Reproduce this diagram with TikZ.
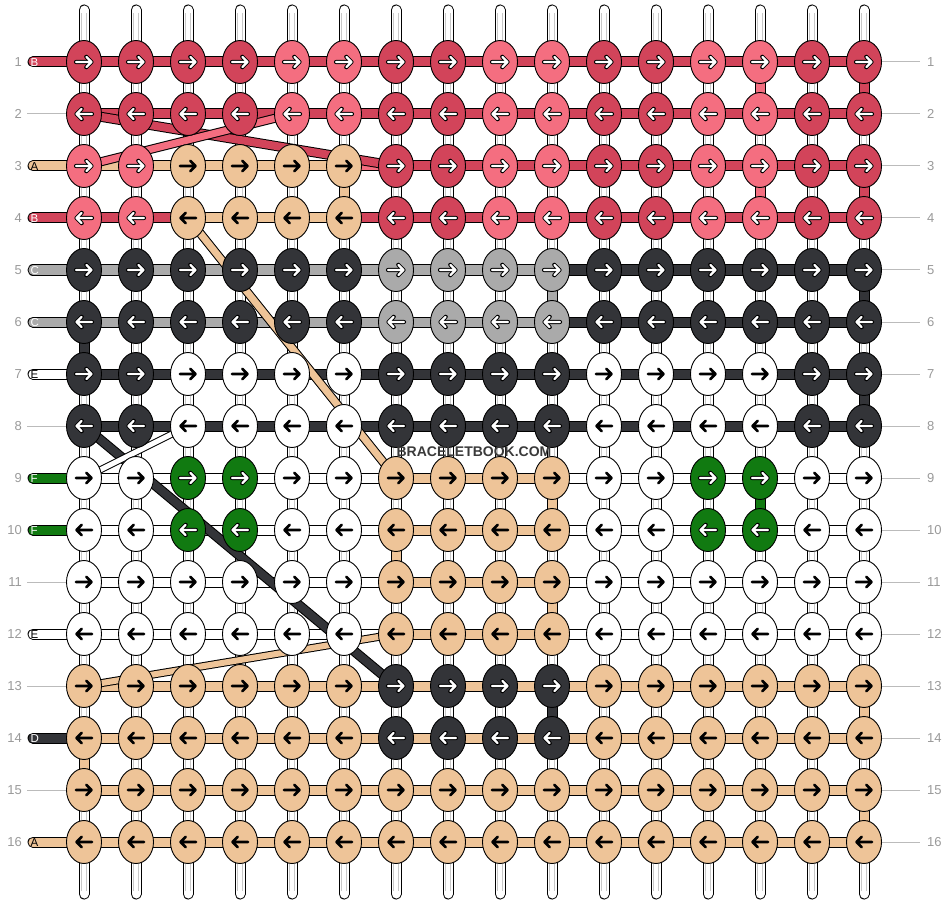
\documentclass[tikz,border=0pt]{standalone}
\usepackage{fontspec}
\setmainfont{Liberation Sans}
\usetikzlibrary{shapes.geometric}
\definecolor{cD}{HTML}{D2445A}
\definecolor{cP}{HTML}{F46E80}
\definecolor{cT}{HTML}{EEC498}
\definecolor{cK}{HTML}{333438}
\definecolor{cG}{HTML}{AAAAAA}
\definecolor{cN}{HTML}{117A11}
\definecolor{cW}{HTML}{FFFFFF}
\definecolor{numgray}{HTML}{9A9A9A}
\definecolor{linegray}{HTML}{BBBBBB}
\definecolor{strgray}{HTML}{C8C8C8}
\definecolor{wmgray}{HTML}{3A3A3A}
\def\arwD{1}\def\arwP{1}\def\arwK{1}\def\arwG{1}\def\arwN{1}\def\arwT{0}\def\arwW{0}
\tikzset{
  knot/.style={ellipse, draw=black, line width=0.9pt, minimum width=35pt, minimum height=43pt, inner sep=0pt},
  numlabel/.style={text=numgray, font=\fontsize{13}{13}\selectfont, inner sep=0pt},
  tablabel/.style={font=\fontsize{11.5}{11.5}\selectfont, inner sep=0pt, anchor=west},
  glabel/.style={draw=linegray, line width=1pt},
}
\def\knotrows{
 1/{D,D,D,D,P,P,D,D,P,P,D,D,P,P,D,D},
 2/{D,D,D,D,P,P,D,D,P,P,D,D,P,P,D,D},
 3/{P,P,T,T,T,T,D,D,P,P,D,D,P,P,D,D},
 4/{P,P,T,T,T,T,D,D,P,P,D,D,P,P,D,D},
 5/{K,K,K,K,K,K,G,G,G,G,K,K,K,K,K,K},
 6/{K,K,K,K,K,K,G,G,G,G,K,K,K,K,K,K},
 7/{K,K,W,W,W,W,K,K,K,K,W,W,W,W,K,K},
 8/{K,K,W,W,W,W,K,K,K,K,W,W,W,W,K,K},
 9/{W,W,N,N,W,W,T,T,T,T,W,W,N,N,W,W},
 10/{W,W,N,N,W,W,T,T,T,T,W,W,N,N,W,W},
 11/{W,W,W,W,W,W,T,T,T,T,W,W,W,W,W,W},
 12/{W,W,W,W,W,W,T,T,T,T,W,W,W,W,W,W},
 13/{T,T,T,T,T,T,K,K,K,K,T,T,T,T,T,T},
 14/{T,T,T,T,T,T,K,K,K,K,T,T,T,T,T,T},
 15/{T,T,T,T,T,T,T,T,T,T,T,T,T,T,T,T},
 16/{T,T,T,T,T,T,T,T,T,T,T,T,T,T,T,T}}
\def\segrows{
 1/{D,D,D,D,D,D,D,D,D,D,D,D,D,D,D},
 2/{D,D,D,D,D,D,D,D,D,D,D,D,D,D,D},
 3/{T,T,T,T,T,P,D,D,D,D,D,D,D,D,D},
 4/{D,D,T,T,T,D,D,D,D,D,D,D,D,D,D},
 5/{G,G,G,G,G,G,G,G,G,K,K,K,K,K,K},
 6/{G,G,G,G,G,G,G,G,G,K,K,K,K,K,K},
 7/{K,K,K,K,K,K,K,K,K,K,K,K,K,K,K},
 8/{K,K,K,K,K,K,K,K,K,K,K,K,K,K,K},
 9/{W,W,W,W,W,W,T,T,T,W,W,W,W,W,W},
 10/{W,W,W,W,W,W,T,T,T,W,W,W,W,W,W},
 11/{W,W,W,W,W,W,T,T,T,W,W,W,W,W,W},
 12/{W,W,W,W,W,W,T,T,T,W,W,W,W,W,W},
 13/{T,T,T,T,T,T,T,T,T,T,T,T,T,T,T},
 14/{T,T,T,T,T,T,T,T,T,T,T,T,T,T,T},
 15/{T,T,T,T,T,T,T,T,T,T,T,T,T,T,T},
 16/{T,T,T,T,T,T,T,T,T,T,T,T,T,T,T}}
\begin{document}
\begin{tikzpicture}[x=1pt,y=-1pt]
\fill[white] (0,0) rectangle (948,904);
\useasboundingbox (0,0) rectangle (948,904);
% grid coordinates
\foreach \r in {1,...,16}{
  \foreach \c in {1,...,16}{
    \coordinate (p\r-\c) at ({84+52*(\c-1)},{62+52*(\r-1)});
  }
}
% vertical strings
\foreach \c in {1,...,16}{
  \coordinate (top\c) at ({84+52*(\c-1)},10);
  \coordinate (bot\c) at ({84+52*(\c-1)},894);
  \coordinate (itop\c) at ({84+52*(\c-1)},13);
  \coordinate (ibot\c) at ({84+52*(\c-1)},891);
  \draw[black, line width=11pt, line cap=round] (top\c) -- (bot\c);
  \draw[white, line width=9pt, line cap=round] (top\c) -- (bot\c);
  \draw[strgray, line width=5.6pt] (itop\c) -- (ibot\c);
  \draw[white, line width=4.4pt] (itop\c) -- (ibot\c);
}
% horizontal segments
\foreach \r/\segs in \segrows {
  \foreach \s [count=\i] in \segs {
    \pgfmathtruncatemacro\j{\i+1}
    \draw[black, line width=11pt] (p\r-\i) -- (p\r-\j);
    \draw[c\s, line width=9pt] (p\r-\i) -- (p\r-\j);
  }
}
% vertical coloured segments
\foreach \r/\c/\col in {1/14/P,1/16/D,3/14/P,3/16/D,3/6/T,5/10/G,5/16/K,6/1/K,7/16/K,9/10/T,9/14/N,10/7/T,11/10/T,13/10/K,13/16/T,14/1/T,15/16/T}{
  \pgfmathtruncatemacro\rr{\r+1}
  \draw[black, line width=11pt] (p\r-\c) -- (p\rr-\c);
  \draw[c\col, line width=9pt] (p\r-\c) -- (p\rr-\c);
}
% diagonal threads
\draw[black, line width=10pt] (p2-1) -- (p3-7);
\draw[cD, line width=8pt] (p2-1) -- (p3-7);
\draw[black, line width=9pt] (p3-1) -- (p2-5);
\draw[cP, line width=7pt] (p3-1) -- (p2-5);
\draw[black, line width=9pt] (p4-3) -- (p9-7);
\draw[cT, line width=7pt] (p4-3) -- (p9-7);
\draw[black, line width=8pt] (p13-1) -- (p12-7);
\draw[cT, line width=6pt] (p13-1) -- (p12-7);
\draw[black, line width=10pt] (p8-1) -- (p13-7);
\draw[cK, line width=8pt] (p8-1) -- (p13-7);
\draw[black, line width=7pt] (p9-1) -- (p8-3);
\draw[white, line width=5pt] (p9-1) -- (p8-3);
% tabs on the left
\foreach \r/\l/\col/\tc in {1/B/D/white,3/A/T/black,4/B/D/white,5/C/G/white,6/C/G/white,7/E/W/black,9/F/N/white,10/F/N/white,12/E/W/black,14/D/K/white,16/A/T/black}{
  \coordinate (tab\r) at (33,{62+52*(\r-1)});
  \draw[black, line width=11pt, line cap=round] (tab\r) -- (p\r-1);
  \draw[c\col, line width=9pt, line cap=round] (tab\r) -- (p\r-1);
  \node[tablabel, text=\tc] (lab\r) at (30.5,{62.5+52*(\r-1)}) {\l};
}
% gray label lines
\foreach \r in {2,8,11,13,15}{
  \coordinate (gl\r) at (27,{62+52*(\r-1)});
  \draw[glabel] (gl\r) -- (p\r-1);
}
\foreach \r in {1,...,16}{
  \coordinate (gr\r) at (920,{62+52*(\r-1)});
  \draw[glabel] (p\r-16) -- (gr\r);
  \node[numlabel, anchor=east] (nl\r) at (22,{62+52*(\r-1)}) {\r};
  \node[numlabel, anchor=west] (nr\r) at (927,{62+52*(\r-1)}) {\r};
}
% knots
\foreach \r/\cols in \knotrows {
  \pgfmathtruncatemacro\dir{2*mod(\r,2)-1}
  \foreach \c [count=\i] in \cols {
    \node[knot, fill=c\c] (k\r-\i) at (p\r-\i) {};
    \begin{scope}[shift={(p\r-\i)}, xscale=\dir]
      \ifnum\csname arw\c\endcsname=1
        \draw[black, line width=4.2pt, line cap=round, line join=round] (-8,0) -- (7.5,0) (2.3,-5.2) -- (7.5,0) -- (2.3,5.2);
        \draw[white, line width=2.2pt, line cap=round, line join=round] (-8,0) -- (7.5,0) (2.3,-5.2) -- (7.5,0) -- (2.3,5.2);
      \else
        \draw[black, line width=2.6pt, line cap=round, line join=round] (-8,0) -- (7.5,0) (2.3,-5.2) -- (7.5,0) -- (2.3,5.2);
      \fi
    \end{scope}
  }
}
% watermark
\node[font=\bfseries\fontsize{14}{14}\selectfont, text=wmgray, inner sep=0pt] (wm) at (474,452) {BRACELETBOOK.COM};
\end{tikzpicture}
\end{document}
